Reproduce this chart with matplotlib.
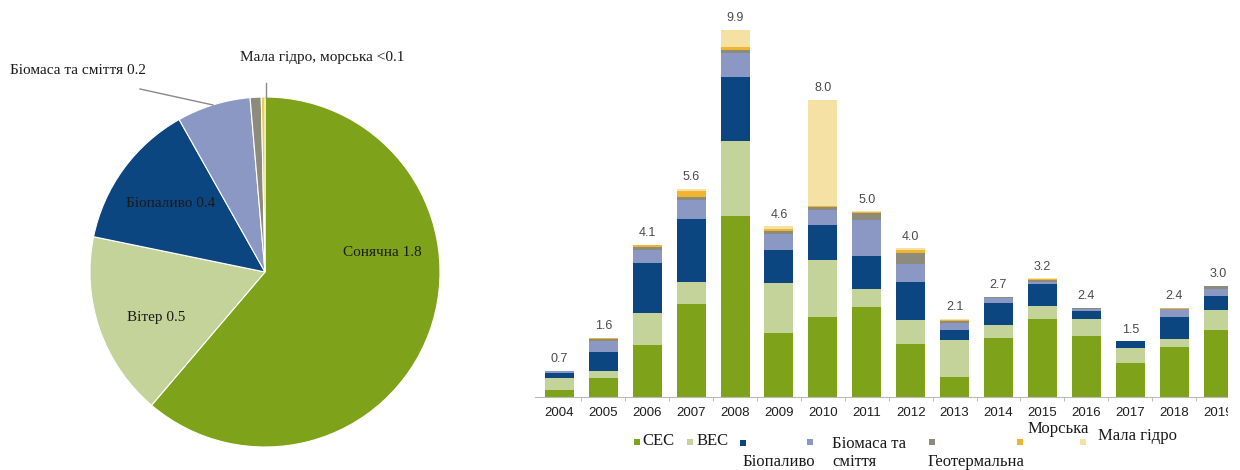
import matplotlib.pyplot as plt
from matplotlib.patches import Rectangle

plt.rcParams['font.family'] = ['Liberation Serif', 'DejaVu Serif']

W, H = 1240, 470


def px(x, y):
    # pixel position (from top-left) -> figure fraction
    return x / W, 1 - y / H


# ---- pie: investment by source, last year ----
pie_labels = ['Сонячна', 'Вітер', 'Біопаливо', 'Біомаса та сміття', 'Геотермальна', 'Мала гідро, морська']
pie_values = [1.8, 0.5, 0.4, 0.2, 0.03, 0.01]
pie_colors = ['#7ea31a', '#c3d39a', '#0c4680', '#8b98c3', '#8d8b7b', '#e6cf4a']

# ---- stacked bars by year ----
years = [str(y) for y in range(2004, 2020)]
solar = [0.20, 0.50, 1.40, 2.50, 4.88, 1.72, 2.16, 2.43, 1.44, 0.54, 1.60, 2.10, 1.63, 0.92, 1.35, 1.80]
wind = [0.32, 0.20, 0.87, 0.60, 2.02, 1.36, 1.53, 0.49, 0.63, 0.99, 0.33, 0.36, 0.48, 0.39, 0.20, 0.54]
biofuel = [0.12, 0.50, 1.35, 1.70, 1.72, 0.87, 0.93, 0.87, 1.02, 0.27, 0.60, 0.58, 0.20, 0.19, 0.60, 0.39]
biomass = [0.05, 0.30, 0.35, 0.50, 0.63, 0.45, 0.42, 0.97, 0.49, 0.20, 0.13, 0.06, 0.07, 0.00, 0.21, 0.17]
geo = [0.01, 0.07, 0.06, 0.08, 0.10, 0.07, 0.07, 0.18, 0.30, 0.05, 0.04, 0.04, 0.02, 0.00, 0.02, 0.09]
marine = [0.00, 0.02, 0.05, 0.17, 0.07, 0.06, 0.03, 0.04, 0.07, 0.03, 0.00, 0.03, 0.00, 0.00, 0.02, 0.01]
small_hydro = [0.00, 0.01, 0.02, 0.05, 0.47, 0.07, 2.86, 0.02, 0.05, 0.02, 0.00, 0.02, 0.00, 0.00, 0.00, 0.00]

series = [solar, wind, biofuel, biomass, geo, marine, small_hydro]
bar_colors = ['#7ea31a', '#c3d39a', '#0c4680', '#8b98c3', '#8d8b7b', '#f0b52c', '#f6e1a4']

fig = plt.figure(figsize=(W / 100, H / 100), dpi=100)

# pie
cx, cy, r = 265, 272, 175
l, b = px(cx - r, cy + r)
ax_pie = fig.add_axes([l, b, 2 * r / W, 2 * r / H])
ax_pie.pie(pie_values, colors=pie_colors, startangle=90, counterclock=False,
           wedgeprops=dict(edgecolor='white', linewidth=0.8))
ax_pie.set_xlim(-1, 1)
ax_pie.set_ylim(-1, 1)
ax_pie.axis('off')

lbl_kw = dict(fontsize=11, color='#1a1a1a', ha='center', va='center')
ax_pie.text(0.67, 0.11, f'{pie_labels[0]} {pie_values[0]}', **lbl_kw)
ax_pie.text(-0.62, -0.26, f'{pie_labels[1]} {pie_values[1]}', **lbl_kw)
ax_pie.text(-0.54, 0.39, f'{pie_labels[2]} {pie_values[2]}', **lbl_kw)

# outside labels with leader lines
fig.text(*px(10, 70), f'{pie_labels[3]} {pie_values[3]}', fontsize=11, color='#1a1a1a', va='center')
fig.text(*px(240, 57), 'Мала гідро, морська <0.1', fontsize=11, color='#1a1a1a', va='center')
fig.add_artist(plt.Line2D([140 / W, 213 / W], [1 - 89 / H, 1 - 105 / H],
                          transform=fig.transFigure, color='#8a8a8a', lw=1))
fig.add_artist(plt.Line2D([266 / W, 266 / W], [1 - 83 / H, 1 - 98 / H],
                          transform=fig.transFigure, color='#8a8a8a', lw=1))

# bars
x0_px, pitch, base_px = 559.5, 44.1, 397
x_lo = -0.55
x_hi = x_lo + (W - (x0_px + x_lo * pitch)) / pitch
y_hi = 10.6
ax = fig.add_axes([(x0_px + x_lo * pitch) / W, 1 - base_px / H,
                   (x_hi - x_lo) * pitch / W, y_hi * 37.15 / H])

xs = list(range(len(years)))
bottom = [0.0] * len(years)
for vals, col in zip(series, bar_colors):
    ax.bar(xs, vals, width=0.66, bottom=bottom, color=col, linewidth=0)
    bottom = [bt + v for bt, v in zip(bottom, vals)]

for x, tot in zip(xs, bottom):
    ax.annotate(f'{tot:.1f}', (x, tot), xytext=(0, 4), textcoords='offset points',
                ha='center', va='bottom', fontsize=9, color='#4a4a4a',
                family=['Liberation Sans', 'DejaVu Sans'])

ax.set_xlim(x_lo, x_hi)
ax.set_ylim(0, y_hi)
ax.set_xticks(xs)
ax.set_xticklabels(years, family=['Liberation Sans', 'DejaVu Sans'], fontsize=9.5, color='#1e1e1e')
ax.set_xticks([x + 0.5 for x in xs], minor=True)
ax.tick_params(axis='x', which='major', length=0, pad=7)
ax.tick_params(axis='x', which='minor', length=3, color='#b0b0b0')
ax.set_yticks([])
for s in ['top', 'right', 'left']:
    ax.spines[s].set_visible(False)
ax.spines['bottom'].set_color('#b8b8b8')
ax.spines['bottom'].set_linewidth(0.8)

# legend, hand placed
leg_marks = [(637, 442, bar_colors[0]), (690, 442, bar_colors[1]), (743, 443, bar_colors[2]),
             (810, 442, bar_colors[3]), (932, 442, bar_colors[4]), (1020, 442, bar_colors[5]),
             (1083, 442, bar_colors[6])]
for mx, my, col in leg_marks:
    fig.add_artist(Rectangle(px(mx - 3, my + 3), 6 / W, 6 / H, transform=fig.transFigure,
                             facecolor=col, edgecolor='none'))

leg_texts = [(642, 441, 'СЕС'), (697, 441, 'ВЕС'), (743, 462, 'Біопаливо'),
             (832, 444, 'Біомаса та'), (832, 462, 'сміття'), (928, 462, 'Геотермальна'),
             (1028, 429, 'Морська'), (1098, 436, 'Мала гідро')]
for tx, ty, t in leg_texts:
    fig.text(*px(tx, ty), t, fontsize=12, color='#1a1a1a', va='center', ha='left')

# right edge of the bar panel is cropped
fig.add_artist(Rectangle(px(1228, H), (W - 1228) / W, 1, transform=fig.transFigure,
                         facecolor='white', edgecolor='none', zorder=10))

fig.savefig('out.png', dpi=100, facecolor='white')
